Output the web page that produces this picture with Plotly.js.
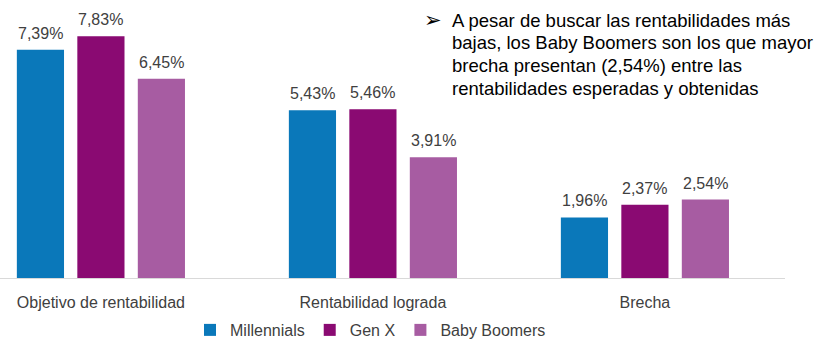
<!DOCTYPE html>
<html><head><meta charset="utf-8">
<script src="https://cdn.plot.ly/plotly-3.0.1.min.js"></script>
<style>html,body{margin:0;padding:0;background:#fff}#c{width:831px;height:360px}</style>
</head><body><div id="c"></div>
<script>
const categories = ["Objetivo de rentabilidad", "Rentabilidad lograda", "Brecha"];
const seriesNames = ["Millennials", "Gen X", "Baby Boomers"];
const millennials = [7.39, 5.43, 1.96];
const genX = [7.83, 5.46, 2.37];
const babyBoomers = [6.45, 3.91, 2.54];
const colors = ["#0a78ba", "#8a0a72", "#a75ca2"];
const noteLines = [
  "A pesar de buscar las rentabilidades más",
  "bajas, los Baby Boomers son los que mayor",
  "brecha presentan (2,54%) entre las",
  "rentabilidades esperadas y obtenidas"
];

const FONT = "Liberation Sans, Arial, sans-serif";
const seriesValues = [millennials, genX, babyBoomers];
const fmt = v => v.toFixed(2).replace(".", ",") + "%";
const traces = seriesValues.map((vals, i) => ({
  type: "bar", name: seriesNames[i], x: categories, y: vals,
  marker: {color: colors[i]}, hoverinfo: "none"
}));
const annotations = [];
const offsets = [-60.5, 0, 60.5];
seriesValues.forEach((vals, i) => vals.forEach((v, j) => {
  annotations.push({x: categories[j], y: v, xref: "x", yref: "y", text: fmt(v),
    showarrow: false, xshift: offsets[i], yshift: 6, yanchor: "bottom",
    font: {family: FONT, size: 16, color: "#404040"}});
}));
annotations.push({xref: "paper", yref: "paper", x: 422/785, y: 1 - 20/278, xanchor: "left", yanchor: "middle",
  text: "<b>➢</b>", showarrow: false, font: {family: "DejaVu Sans", size: 21, color: "#000"}});
noteLines.forEach((line, k) => {
  annotations.push({xref: "paper", yref: "paper", x: 450/785, y: 1 - (20 + k * 22.7) / 278,
    xanchor: "left", yanchor: "middle", align: "left", text: line, showarrow: false,
    font: {family: FONT, size: 18.5, color: "#000"}});
});

const layout = {
  width: 831, height: 360,
  margin: {l: 0, r: 46, t: 0, b: 82},
  paper_bgcolor: "#fff", plot_bgcolor: "#fff",
  barmode: "group", bargap: 0.333, bargroupgap: 0.22,
  xaxis: {range: [-0.371, 2.515], showline: true, linecolor: "#d9d9d9", linewidth: 1,
    ticks: "", ticklabelstandoff: 10, showgrid: false, zeroline: false,
    tickfont: {family: FONT, size: 16, color: "#404040"}},
  yaxis: {range: [0, 9], visible: false, showgrid: false, zeroline: false},
  showlegend: true,
  legend: {orientation: "h", x: 0.472, xanchor: "center", y: -0.187, yanchor: "middle",
    font: {family: FONT, size: 16, color: "#404040"},
    itemwidth: 30, tracegroupgap: 0},
  annotations: annotations
};
Plotly.newPlot("c", traces, layout, {displayModeBar: false, staticPlot: true});
</script></body></html>
